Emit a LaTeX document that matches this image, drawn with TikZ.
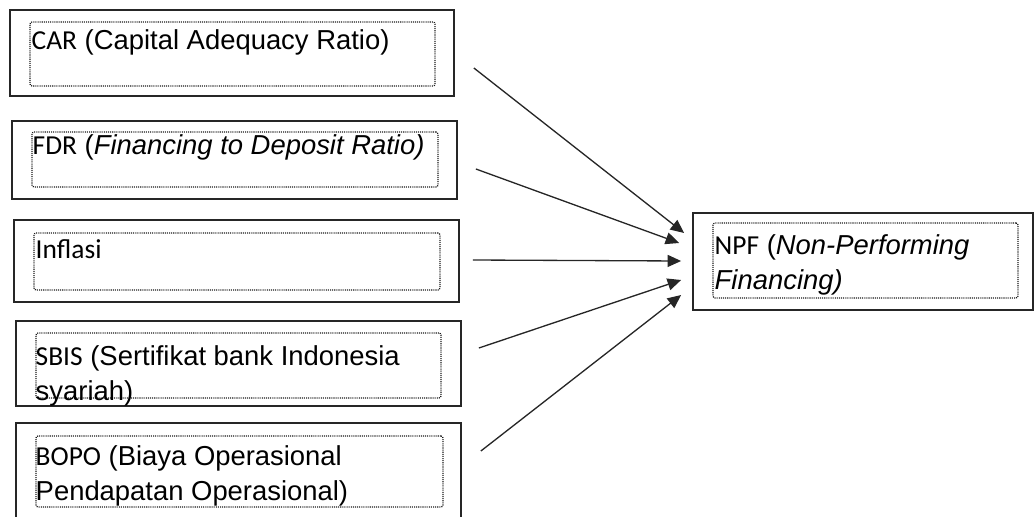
\documentclass[tikz,border=0pt]{standalone}
\usepackage{fontspec}
\setmainfont{Liberation Sans}
\newfontfamily\calfont{Carlito}
\usetikzlibrary{calc,arrows.meta,positioning}
% abbreviations are set in Carlito
\newcommand{\abr}[1]{{\calfont #1}}
\tikzset{
  outbox/.style={draw=black!85,line width=1pt,inner sep=0pt},
  dotbox/.style={draw=black!90,line width=0.7pt,dash pattern=on 0.6pt off 0.6pt,rounded corners=1.2pt,inner sep=0pt},
  txt/.style={anchor=base west,inner sep=0pt,align=left,font=\fontsize{15.6}{19.9}\selectfont},
  arr/.style={-{Triangle[length=2.7mm,width=2.4mm]},line width=0.75pt,black!85}
}

\begin{document}
\begin{tikzpicture}
\useasboundingbox (0,0) rectangle (20.72,10.32);
% variable boxes on the left
\node[outbox,minimum width=8.88cm,minimum height=1.72cm] (car) at (4.64,9.26) {};
\node[outbox,minimum width=8.90cm,minimum height=1.56cm] (fdr) at (4.69,7.12) {};
\node[outbox,minimum width=8.90cm,minimum height=1.64cm] (inf) at (4.73,5.10) {};
\node[outbox,minimum width=8.90cm,minimum height=1.70cm] (sbis) at (4.77,3.05) {};
\node[outbox,minimum width=8.90cm,minimum height=2.34cm] (bopo) at (4.77,0.69) {};
% dependent variable
\node[outbox,minimum width=6.80cm,minimum height=1.94cm] (npf) at (17.26,5.09) {};
% dotted text frames
\node[dotbox,minimum width=8.10cm,minimum height=1.28cm] (carin) at (4.65,9.24) {};
\node[dotbox,minimum width=8.12cm,minimum height=1.10cm] (fdrin) at (4.70,7.13) {};
\node[dotbox,minimum width=8.12cm,minimum height=1.14cm] (infin) at (4.74,5.09) {};
\node[dotbox,minimum width=8.10cm,minimum height=1.30cm] (sbisin) at (4.77,3.01) {};
\node[dotbox,minimum width=8.14cm,minimum height=1.42cm] (bopoin) at (4.79,0.89) {};
\node[dotbox,minimum width=6.10cm,minimum height=1.50cm] (npfin) at (17.31,5.11) {};
% labels (two-line ones sit on their last line)
\node[txt] (cart) at ($(carin.north west)+(0.04,-0.56)$) {\abr{CAR} (Capital Adequacy Ratio)};
\node[txt] (fdrt) at ($(fdrin.north west)+(0.02,-0.46)$) {\abr{FDR} (\textit{Financing to Deposit Ratio)}};
\node[txt] (inft) at ($(infin.north west)+(0.04,-0.52)$) {\abr{Inflasi}};
\node[txt] (sbist) at ($(sbisin.north west)+(0,-1.36)$) {\abr{SBIS} (Sertifikat bank Indonesia\\syariah)};
\node[txt] (bopot) at ($(bopoin.north west)+(0,-1.31)$) {\abr{BOPO} (Biaya Operasional\\Pendapatan Operasional)};
\node[txt] (npft) at ($(npfin.north west)+(0.04,-1.34)$) {\abr{NPF} (\textit{Non-Performing}\\\textit{Financing)}};
% arrows into NPF
\foreach \n/\sx/\sy/\ex/\ey in {car/0.38/-0.30/-0.16/0.57,fdr/0.36/-0.18/-0.26/0.37,inf/0.26/0.02/-0.22/0.01,sbis/0.34/0.31/-0.22/-0.37,bopo/0.38/0.61/-0.22/-0.67}
  \draw[arr] ($(\n.east)+(\sx,\sy)$) -- ($(npf.west)+(\ex,\ey)$);
\end{tikzpicture}
\end{document}
